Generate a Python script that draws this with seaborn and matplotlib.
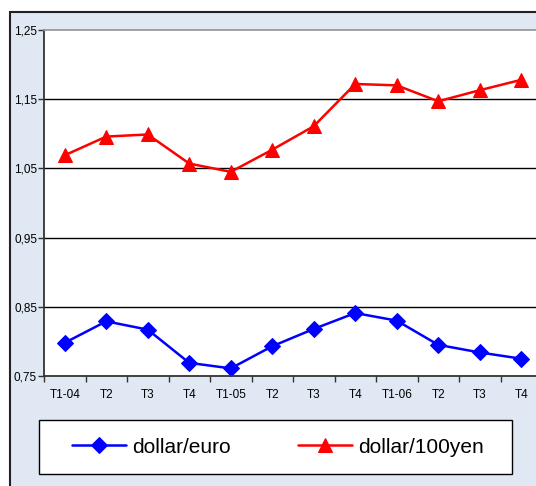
import matplotlib
matplotlib.use("Agg")
import matplotlib.pyplot as plt
import matplotlib.patches as mpatches
import seaborn as sns
import pandas as pd
import numpy as np

categories = ["T1-04", "T2", "T3", "T4", "T1-05", "T2", "T3", "T4", "T1-06", "T2", "T3", "T4"]
dollar_euro = [0.798, 0.829, 0.817, 0.769, 0.761, 0.793, 0.818, 0.841, 0.830, 0.795, 0.784, 0.775]
dollar_100yen = [1.069, 1.096, 1.099, 1.057, 1.045, 1.077, 1.111, 1.172, 1.170, 1.147, 1.163, 1.178]
y_ticks = [0.75, 0.85, 0.95, 1.05, 1.15, 1.25]

sns.set_theme(style="white")
plt.rcParams["font.family"] = ["Liberation Sans", "DejaVu Sans"]

W, H = 536, 486
fig = plt.figure(figsize=(W / 100, H / 100), dpi=100)
fig.patch.set_facecolor("white")

# outer chart-area frame (light blue background)
frame = mpatches.Rectangle((10 / W, -0.1), 1.2, 0.1 + 1 - 12 / H, transform=fig.transFigure,
                           facecolor="#dfe8f3", edgecolor="#222222", linewidth=1.5, zorder=-10)
fig.patches.append(frame)

# legend box
lbox = mpatches.Rectangle((39 / W, 1 - 474 / H), 473 / W, 54 / H, transform=fig.transFigure,
                          facecolor="white", edgecolor="black", linewidth=1.0, zorder=-5)
fig.patches.append(lbox)

ax = fig.add_axes([44 / W, 1 - 376 / H, 498 / W, 346 / H])
ax.set_facecolor("white")

df = pd.DataFrame({"idx": np.arange(len(categories)), "euro": dollar_euro, "yen": dollar_100yen})
sns.lineplot(data=df, x="idx", y="euro", ax=ax, color="#0000ff", marker="D", markersize=8.5,
             markeredgecolor="#0000ff", linewidth=1.8, label="dollar/euro", legend=False)
sns.lineplot(data=df, x="idx", y="yen", ax=ax, color="#ff0000", marker="^", markersize=10.5,
             markeredgecolor="#ff0000", linewidth=1.8, label="dollar/100yen", legend=False)

ax.set_xlim(-0.5, len(categories) - 0.5)
ax.set_ylim(0.75, 1.25)
ax.set_xlabel("")
ax.set_ylabel("")

for v in y_ticks[1:-1]:
    ax.axhline(v, color="black", linewidth=1.0, zorder=0.5)

ax.set_yticks(y_ticks)
ax.set_yticklabels([f"{v:.2f}".replace(".", ",") for v in y_ticks], fontsize=8.5)
ax.set_xticks(np.arange(-0.5, len(categories), 1.0))
ax.set_xticklabels([])
ax.set_xticks(np.arange(len(categories)), minor=True)
ax.set_xticklabels(categories, minor=True, fontsize=8.5)
ax.tick_params(axis="x", which="major", length=4, width=1, color="#333333", direction="out", bottom=True)
ax.tick_params(axis="x", which="minor", length=0, pad=9, colors="black")
ax.tick_params(axis="y", length=4, width=1, color="#333333", direction="out", left=True, pad=1, colors="black")
for lab in ax.get_yticklabels():
    lab.set_color("black")

ax.spines["left"].set_color("#333333")
ax.spines["left"].set_linewidth(1.3)
ax.spines["bottom"].set_color("#333333")
ax.spines["bottom"].set_linewidth(1.3)
ax.spines["top"].set_color("#999999")
ax.spines["top"].set_linewidth(1.3)
ax.spines["right"].set_visible(False)

handles, labels = ax.get_legend_handles_labels()
leg = fig.legend(handles, labels, ncol=2, loc="center",
                 bbox_to_anchor=(278 / W, 1 - 447 / H),
                 fontsize=15, frameon=False, handlelength=2.6, handletextpad=0.3,
                 columnspacing=3.2, borderpad=0, borderaxespad=0)
for t in leg.get_texts():
    t.set_color("black")

fig.savefig("out.png", dpi=100)
